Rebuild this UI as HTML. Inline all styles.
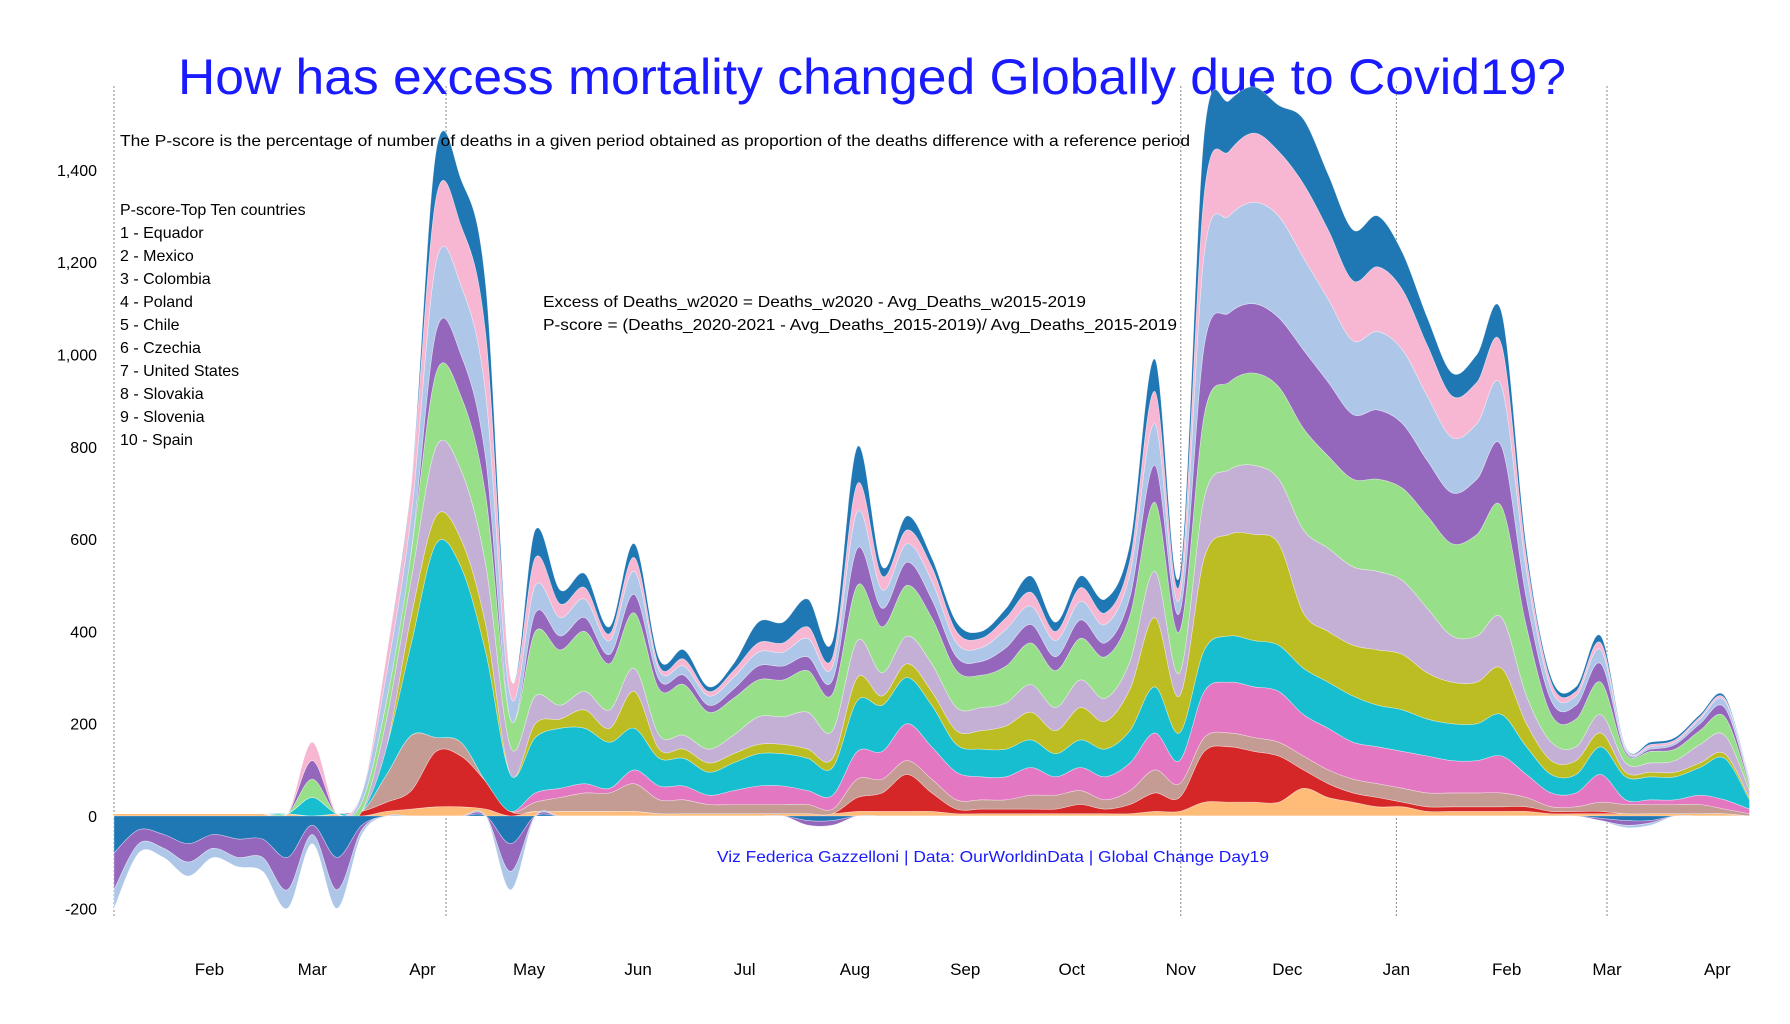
<!DOCTYPE html>
<html><head><meta charset="utf-8"><style>
html,body{margin:0;padding:0;background:#fff;}
svg{display:block;font-family:"Liberation Sans",sans-serif;}
</style></head><body>
<svg id="chart" width="1790" height="1024" viewBox="0 0 1790 1024">
<text x="872" y="94" text-anchor="middle" font-size="50" fill="#1a1aff" textLength="1388" lengthAdjust="spacingAndGlyphs">How has excess mortality changed Globally due to Covid19?</text>
<g id="grid"></g>
<g id="layers"></g>
<g id="yaxis"></g>
<g id="xaxis"></g>
<text x="120" y="146" font-size="16" fill="#000" textLength="1070" lengthAdjust="spacingAndGlyphs">The P-score is the percentage of number of deaths in a given period obtained as proportion of the deaths difference with a reference period</text>
<g font-size="16" fill="#000">
<text x="120" y="215">P-score-Top Ten countries</text>
<text x="120" y="238">1 - Equador</text>
<text x="120" y="261">2 - Mexico</text>
<text x="120" y="284">3 - Colombia</text>
<text x="120" y="307">4 - Poland</text>
<text x="120" y="330">5 - Chile</text>
<text x="120" y="353">6 - Czechia</text>
<text x="120" y="376">7 - United States</text>
<text x="120" y="399">8 - Slovakia</text>
<text x="120" y="422">9 - Slovenia</text>
<text x="120" y="445">10 - Spain</text>
</g>
<text x="543" y="307" font-size="16" textLength="543" lengthAdjust="spacingAndGlyphs">Excess of Deaths_w2020 = Deaths_w2020 - Avg_Deaths_w2015-2019</text>
<text x="543" y="330" font-size="16" textLength="634" lengthAdjust="spacingAndGlyphs">P-score = (Deaths_2020-2021 - Avg_Deaths_2015-2019)/ Avg_Deaths_2015-2019</text>
<text x="717" y="862" font-size="16" fill="#1a1aff" textLength="552" lengthAdjust="spacingAndGlyphs">Viz Federica Gazzelloni | Data: OurWorldinData | Global Change Day19</text>
</svg>
<script>
const monthLabels=["Feb","Mar","Apr","May","Jun","Jul","Aug","Sep","Oct","Nov","Dec","Jan","Feb","Mar","Apr"];
const monthWeek=[3.85,8.0,12.45,16.75,21.15,25.45,29.9,34.35,38.65,43.05,47.35,51.75,56.2,60.25,64.7];
const yTicks=[-200,0,200,400,600,800,1000,1200,1400];
const yTickLabels=["-200","0","200","400","600","800","1,000","1,200","1,400"];
const vlineWeeks=[0,13.4,43.05,51.75,60.25];
const L1=[5,5,5,5,5,5,5,5,0,5,0,10,15,20,20,15,0,10,10,10,10,10,5,5,5,5,5,5,5,5,10,10,10,10,5,5,5,5,5,5,5,5,10,10,30,30,30,30,60,40,30,20,20,10,10,10,10,10,5,5,5,5,5,5,5,5,0];
const L2=[0,0,0,0,0,0,0,0,0,0,10,20,40,120,110,60,10,0,0,0,0,0,0,0,0,0,0,0,0,0,30,40,80,40,10,10,10,10,10,20,10,20,40,30,110,120,110,100,40,30,20,20,10,10,10,10,10,10,5,5,5,0,0,0,0,0,0];
const L3=[0,0,0,0,0,0,0,0,0,0,0,60,120,30,30,0,0,20,30,40,40,60,30,30,20,20,20,20,20,10,40,30,30,30,20,20,20,30,30,30,20,30,50,30,30,30,30,30,30,30,30,30,30,30,30,30,30,20,10,10,20,20,20,20,20,10,5];
const L4=[0,0,0,0,0,0,0,0,0,0,0,0,0,0,0,0,0,20,20,20,10,30,30,30,20,30,40,40,30,30,60,60,80,70,60,50,50,60,40,50,50,60,80,50,100,110,110,110,90,90,80,80,80,80,70,70,80,50,30,30,60,10,10,10,20,20,10];
const L5=[0,0,0,0,0,0,0,0,40,0,0,60,200,420,380,280,80,120,130,120,100,90,60,60,50,60,70,70,70,60,110,100,100,90,60,60,60,60,50,60,60,70,100,60,90,100,100,100,100,100,100,90,90,80,80,80,90,60,40,40,60,50,50,50,60,90,20];
const L6=[0,0,0,0,0,0,0,0,0,0,0,0,60,60,60,60,0,30,20,40,30,80,20,20,20,20,20,20,20,20,50,20,30,30,30,40,50,60,50,70,60,90,150,80,200,220,230,220,120,110,110,120,120,100,90,90,100,50,30,30,30,10,10,10,10,10,5];
const L7=[0,0,0,0,0,0,0,0,0,0,0,60,80,150,150,130,60,60,30,40,40,50,30,30,30,40,60,60,80,60,80,50,60,60,50,50,50,60,50,60,50,60,100,50,130,140,150,140,180,180,170,170,160,140,100,100,110,60,40,30,40,20,20,25,40,40,15];
const L8=[0,0,0,0,0,0,0,0,40,0,20,40,60,160,160,150,60,140,120,130,100,120,100,110,80,80,80,80,90,80,120,100,110,100,80,70,80,90,80,90,90,100,150,90,180,190,200,200,220,200,190,200,200,200,200,220,240,150,60,60,70,20,25,25,30,40,10];
const L9=[0,0,0,0,0,0,0,0,40,0,0,0,0,90,90,80,0,40,30,30,20,40,20,20,15,20,30,30,30,30,80,40,50,40,30,30,40,40,30,40,30,40,80,40,150,150,150,150,170,160,140,150,140,120,110,120,130,60,30,30,40,5,5,10,15,20,5];
const L10=[0,0,0,0,0,0,0,0,0,0,20,60,80,150,150,140,50,60,40,40,30,50,20,20,20,25,30,30,40,30,80,40,40,40,30,30,40,40,35,40,40,50,90,30,200,210,220,220,200,180,160,170,160,140,120,120,130,60,25,20,30,5,5,5,10,15,5];
const L11=[0,0,0,0,0,0,0,0,40,0,0,40,65,140,130,130,40,60,30,25,15,30,10,15,10,15,20,20,25,20,60,30,30,30,25,20,25,30,20,30,25,30,70,30,130,140,150,140,160,150,130,140,130,110,90,90,90,30,15,10,15,3,5,5,5,5,3];
const L12=[0,0,0,0,0,0,0,0,0,0,0,0,0,100,100,105,0,60,30,30,15,30,15,20,10,15,45,45,60,35,80,20,30,20,20,15,20,35,20,25,30,35,70,20,130,110,100,100,140,120,110,110,80,60,50,60,70,20,10,10,15,2,5,5,5,5,2];
const N1=[-80,-30,-40,-60,-40,-50,-50,-90,-20,-90,-20,0,0,0,0,0,-60,0,0,0,0,0,0,0,0,0,0,0,-10,-10,0,0,0,0,0,0,0,0,0,0,0,0,0,0,0,0,0,0,0,0,0,0,0,0,0,0,0,0,0,0,-5,-10,-10,0,0,0,0];
const N2=[-80,-30,-30,-40,-30,-40,-40,-70,-20,-70,-10,0,0,0,0,0,-60,0,0,0,0,0,0,0,0,0,0,0,-10,-10,0,0,0,0,0,0,0,0,0,0,0,0,0,0,0,0,0,0,0,0,0,0,0,0,0,0,0,0,0,0,-5,-10,-5,0,0,0,0];
const N3=[-40,-20,-20,-30,-20,-20,-30,-40,-20,-40,-10,0,0,0,0,0,-40,0,0,0,0,0,0,0,0,0,0,0,0,0,0,0,0,0,0,0,0,0,0,0,0,0,0,0,0,0,0,0,0,0,0,0,0,0,0,0,0,0,0,0,0,-5,-5,0,0,0,0];
const posSeries=[L1,L2,L3,L4,L5,L6,L7,L8,L9,L10,L11,L12];
const posColors=["#ffbb78","#d62728","#c49c94","#e377c2","#17becf","#bcbd22","#c5b0d5","#98df8a","#9467bd","#aec7e8","#f7b6d2","#1f77b4"];
const negSeries=[N1,N2,N3];
const negColors=["#1f77b4","#9467bd","#aec7e8"];

const NS="http://www.w3.org/2000/svg";
const xS=i=>114+i*24.78;
const yS=v=>816-v*0.4615;
function curve(pts){
  let d="";
  for(let k=0;k<pts.length-1;k++){
    const p0=pts[Math.max(k-1,0)],p1=pts[k],p2=pts[k+1],p3=pts[Math.min(k+2,pts.length-1)];
    const c1=[p1[0]+(p2[0]-p0[0])/6,p1[1]+(p2[1]-p0[1])/6];
    const c2=[p2[0]-(p3[0]-p1[0])/6,p2[1]-(p3[1]-p1[1])/6];
    d+=` C${c1[0].toFixed(1)},${c1[1].toFixed(1)} ${c2[0].toFixed(1)},${c2[1].toFixed(1)} ${p2[0].toFixed(1)},${p2[1].toFixed(1)}`;
  }
  return d;
}
function band(lo,hi,color,name){
  const top=hi.map((v,i)=>[xS(i),yS(v)]);
  const bot=lo.map((v,i)=>[xS(i),yS(v)]).reverse();
  const d=`M${top[0][0]},${top[0][1]}`+curve(top)+` L${bot[0][0]},${bot[0][1]}`+curve(bot)+"Z";
  const p=document.createElementNS(NS,"path");
  p.setAttribute("d",d);p.setAttribute("fill",color);
  p.setAttribute("stroke","#ffffff");p.setAttribute("stroke-width","0.6");p.setAttribute("stroke-opacity","0.5");
  
  
  document.getElementById("layers").appendChild(p);
}
const n=L1.length;
let base=new Array(n).fill(0);
posSeries.forEach((s,k)=>{const hi=base.map((b,i)=>b+s[i]);band(base,hi,posColors[k],"stream-layer-"+(k+1));base=hi;});
base=new Array(n).fill(0);
negSeries.forEach((s,k)=>{const lo=base.map((b,i)=>b+s[i]);band(lo,base,negColors[k],"negative-layer-"+(k+1));base=lo;});

const grid=document.getElementById("grid");
vlineWeeks.forEach(w=>{
  const l=document.createElementNS(NS,"line");
  l.setAttribute("x1",xS(w));l.setAttribute("x2",xS(w));l.setAttribute("y1",86);l.setAttribute("y2",918);
  l.setAttribute("stroke","#888");l.setAttribute("stroke-dasharray","2,2");l.setAttribute("stroke-width","1");
  
  
  grid.appendChild(l);
});
const ya=document.getElementById("yaxis");
yTicks.forEach((v,k)=>{
  const t=document.createElementNS(NS,"text");
  t.setAttribute("x",97);t.setAttribute("y",yS(v)+6);t.setAttribute("text-anchor","end");t.setAttribute("font-size","16");
  t.textContent=yTickLabels[k];
  
  
  ya.appendChild(t);
});
const xa=document.getElementById("xaxis");
monthLabels.forEach((m,k)=>{
  const t=document.createElementNS(NS,"text");
  t.setAttribute("x",xS(monthWeek[k]));t.setAttribute("y",975);t.setAttribute("text-anchor","middle");t.setAttribute("font-size","17");
  t.textContent=m;
  
  
  xa.appendChild(t);
});
</script>
</body></html>
